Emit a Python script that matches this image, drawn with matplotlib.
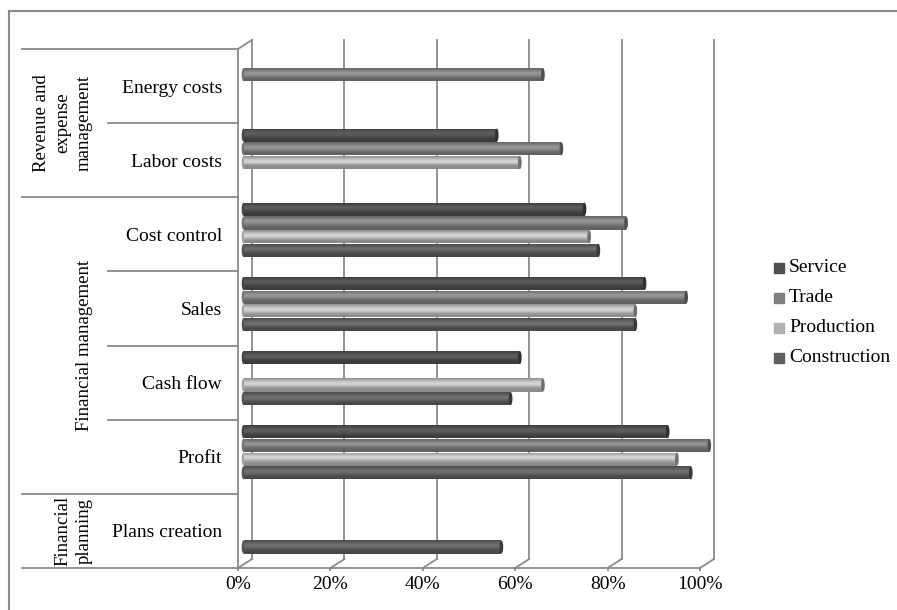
import numpy as np
import matplotlib
matplotlib.use("Agg")
import matplotlib.pyplot as plt
from matplotlib.patches import Ellipse, Rectangle
from matplotlib.lines import Line2D

# data (bottom row first)
categories = ["Plans creation", "Profit", "Cash flow", "Sales",
              "Cost control", "Labor costs", "Energy costs"]
groups = ["Financial\nplanning", "Financial management",
          "Revenue and\nexpense\nmanagement"]
group_spans = [(0, 1), (1, 5), (5, 7)]
series = ["Service", "Trade", "Production", "Construction"]
service = [np.nan, 92, 60, 87, 74, 55, np.nan]
trade = [np.nan, 101, np.nan, 96, 83, 69, 65]
production = [np.nan, 94, 65, 85, 75, 60, np.nan]
construction = [56, 97, 58, 85, 77, np.nan, np.nan]
ticks = [0, 20, 40, 60, 80, 100]
tick_labels = ["0%", "20%", "40%", "60%", "80%", "100%"]

base_grey = [0.31, 0.50, 0.71, 0.37]
legend_grey = ["#505050", "#7f7f7f", "#b0b0b0", "#606060"]

W, H = 897, 610
plt.rcParams['font.family'] = ['Liberation Serif', 'DejaVu Serif']
fig = plt.figure(figsize=(W / 100, H / 100), dpi=100)

# front plane of the 3d plot in pixels
px_l, px_r, px_t, px_b = 238, 700, 49, 568
ax = fig.add_axes([px_l / W, 1 - px_b / H, (px_r - px_l) / W, (px_b - px_t) / H])
ax.set_xlim(0, 100)
ax.set_ylim(0, 7)
ppx = (px_r - px_l) / 100.0        # pixels per percent
ppy = (px_b - px_t) / 7.0          # pixels per row

def xpx(p):
    return (p - px_l) / ppx

grid_c = "#8a8a8a"
lw = 1.3
dx = 14 / ppx
dy = 9 / ppy

for s in ["top", "right"]:
    ax.spines[s].set_visible(False)
for s in ["left", "bottom"]:
    ax.spines[s].set_color(grid_c)
    ax.spines[s].set_linewidth(lw)

# back wall gridlines + floor diagonals
for t in ticks:
    ax.plot([t + dx, t + dx], [dy, 7 + dy], color=grid_c, lw=lw, clip_on=False, zorder=1)
    ax.plot([t, t + dx], [0, dy], color=grid_c, lw=lw, clip_on=False, zorder=1)
ax.plot([0, dx], [7, 7 + dy], color=grid_c, lw=lw, clip_on=False, zorder=1)

ax.set_xticks(ticks)
ax.set_xticklabels(tick_labels, fontsize=14)
ax.tick_params(axis="x", length=2, color=grid_c, width=lw, pad=4)
ax.set_yticks(np.arange(7) + 0.5)
ax.set_yticklabels(categories, fontsize=14)
ax.tick_params(axis="y", length=0, pad=11.5)

# category separators
for b in range(8):
    start = 22 if b in (0, 1, 5, 7) else 108
    ax.plot([xpx(start), 0], [b, b], color=grid_c, lw=lw, clip_on=False)

for lab, (a, b) in zip(groups, group_spans):
    ax.text(xpx(93), (a + b) / 2, lab, rotation=90, ha="right", va="center",
            multialignment="center", fontsize=13.5, linespacing=1.35)

# cylinders
slot = 0.185
h = 0.178
shift = 4.5 / ppy
nstrip = 14
bar_left = 1.2
for i, vals in enumerate([service, trade, production, construction]):
    g = base_grey[i]
    for r, v in enumerate(vals):
        if np.isnan(v):
            continue
        yc = r + 0.5 + shift + (1.5 - i) * slot
        right = v + 1.4
        cap_w = 0.8
        cl = g * 0.9
        ax.add_patch(Ellipse((bar_left, yc), cap_w, h, facecolor=(cl, cl, cl),
                             edgecolor="none", clip_on=False, zorder=2))
        step = h / nstrip
        for k in range(nstrip):
            f = (k + 0.5) / nstrip
            fac = 0.75 + 0.42 * np.exp(-((f - 0.62) / 0.27) ** 2)
            c = min(g * fac, 1.0)
            hh = step * (1.8 if k < nstrip - 1 else 1.0)
            ax.barh(yc - h / 2 + k * step, right - cap_w / 2 - bar_left,
                    left=bar_left, height=hh, align="edge", color=(c, c, c),
                    linewidth=0, clip_on=False, zorder=3)
        cd = g * 0.62
        ax.add_patch(Ellipse((right - cap_w / 2, yc), cap_w, h, facecolor=(cd, cd, cd),
                             edgecolor="none", clip_on=False, zorder=4))

# legend
for i, name in enumerate(series):
    yc = [268, 298, 328, 358][i]
    fig.add_artist(Rectangle((774 / W, 1 - (yc + 5) / H), 10 / W, 10 / H,
                             transform=fig.transFigure, color=legend_grey[i]))
    fig.text(789 / W, 1 - yc / H, name, fontsize=14, va="center", ha="left")

# outer border
fig.add_artist(Line2D([9 / W, 1], [1 - 11 / H, 1 - 11 / H], color=grid_c, lw=1.5,
                      transform=fig.transFigure))
fig.add_artist(Line2D([9 / W, 9 / W], [0, 1 - 11 / H], color=grid_c, lw=1.5,
                      transform=fig.transFigure))

fig.savefig("out.png", dpi=100)
